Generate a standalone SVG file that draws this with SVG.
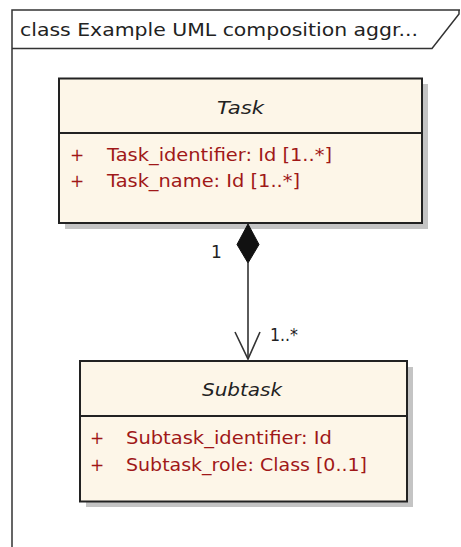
<svg xmlns="http://www.w3.org/2000/svg" width="461" height="547" viewBox="0 0 461 547">
<style>
.frame{fill:none;stroke:#333;stroke-width:1.5}
.shadow{fill:#c4c4c4;stroke:none}
.box{fill:#fdf6e8;stroke:#222;stroke-width:2}
.sep{stroke:#222;stroke-width:2}
.hdr{font-family:"DejaVu Sans",sans-serif;font-size:17px;fill:#222}
.title{font-family:"DejaVu Sans",sans-serif;font-size:17.5px;font-style:italic;fill:#222}
.attr{font-family:"DejaVu Sans",sans-serif;font-size:17px;fill:#a01818}
.lbl{font-family:"DejaVu Sans",sans-serif;font-size:17px;fill:#222}
.conn{stroke:#333;stroke-width:1.6;fill:none}
</style>
<rect width="461" height="547" fill="#ffffff"/>
<g id="frame">
<path class="frame" d="M12,547 L12,10 L460,10"/>
<path class="frame" d="M12,48.5 L432,48.5 L459,14 L459,10"/>
<text class="hdr" x="20" y="36" textLength="398" lengthAdjust="spacingAndGlyphs">class Example UML composition aggr...</text>
</g>
<g id="task">
<rect class="shadow" x="65" y="84" width="363" height="145"/>
<rect class="box" x="59" y="78.5" width="363" height="144.5"/>
<line class="sep" x1="59" y1="133" x2="422" y2="133"/>
<text class="title" x="217" y="113.5" textLength="47" lengthAdjust="spacingAndGlyphs">Task</text>
<text class="attr" x="70" y="160.5">+</text>
<text class="attr" x="107" y="160.5" textLength="225" lengthAdjust="spacingAndGlyphs">Task_identifier:  Id [1..*]</text>
<text class="attr" x="70" y="186.5">+</text>
<text class="attr" x="107" y="186.5" textLength="193" lengthAdjust="spacingAndGlyphs">Task_name:  Id [1..*]</text>
</g>
<g id="subtask">
<rect class="shadow" x="86" y="367" width="327" height="140"/>
<rect class="box" x="80" y="361" width="327" height="140.5"/>
<line class="sep" x1="80" y1="416" x2="407" y2="416"/>
<text class="title" x="202" y="395.5" textLength="80" lengthAdjust="spacingAndGlyphs">Subtask</text>
<text class="attr" x="90" y="443.5">+</text>
<text class="attr" x="126" y="443.5" textLength="206" lengthAdjust="spacingAndGlyphs">Subtask_identifier:  Id</text>
<text class="attr" x="90" y="470.5">+</text>
<text class="attr" x="126" y="470.5" textLength="241" lengthAdjust="spacingAndGlyphs">Subtask_role:  Class [0..1]</text>
</g>
<g id="connectors">
<line class="conn" x1="248" y1="263" x2="248" y2="359"/>
<polygon points="248,224 237,244.5 248,263 259,244.5" fill="#111" stroke="#111" stroke-width="1"/>
<polyline class="conn" points="235,332 248,359 260,332"/>
<text class="lbl" x="211" y="258">1</text>
<text class="lbl" x="270" y="341" textLength="28" lengthAdjust="spacingAndGlyphs">1..*</text>
</g>
</svg>
